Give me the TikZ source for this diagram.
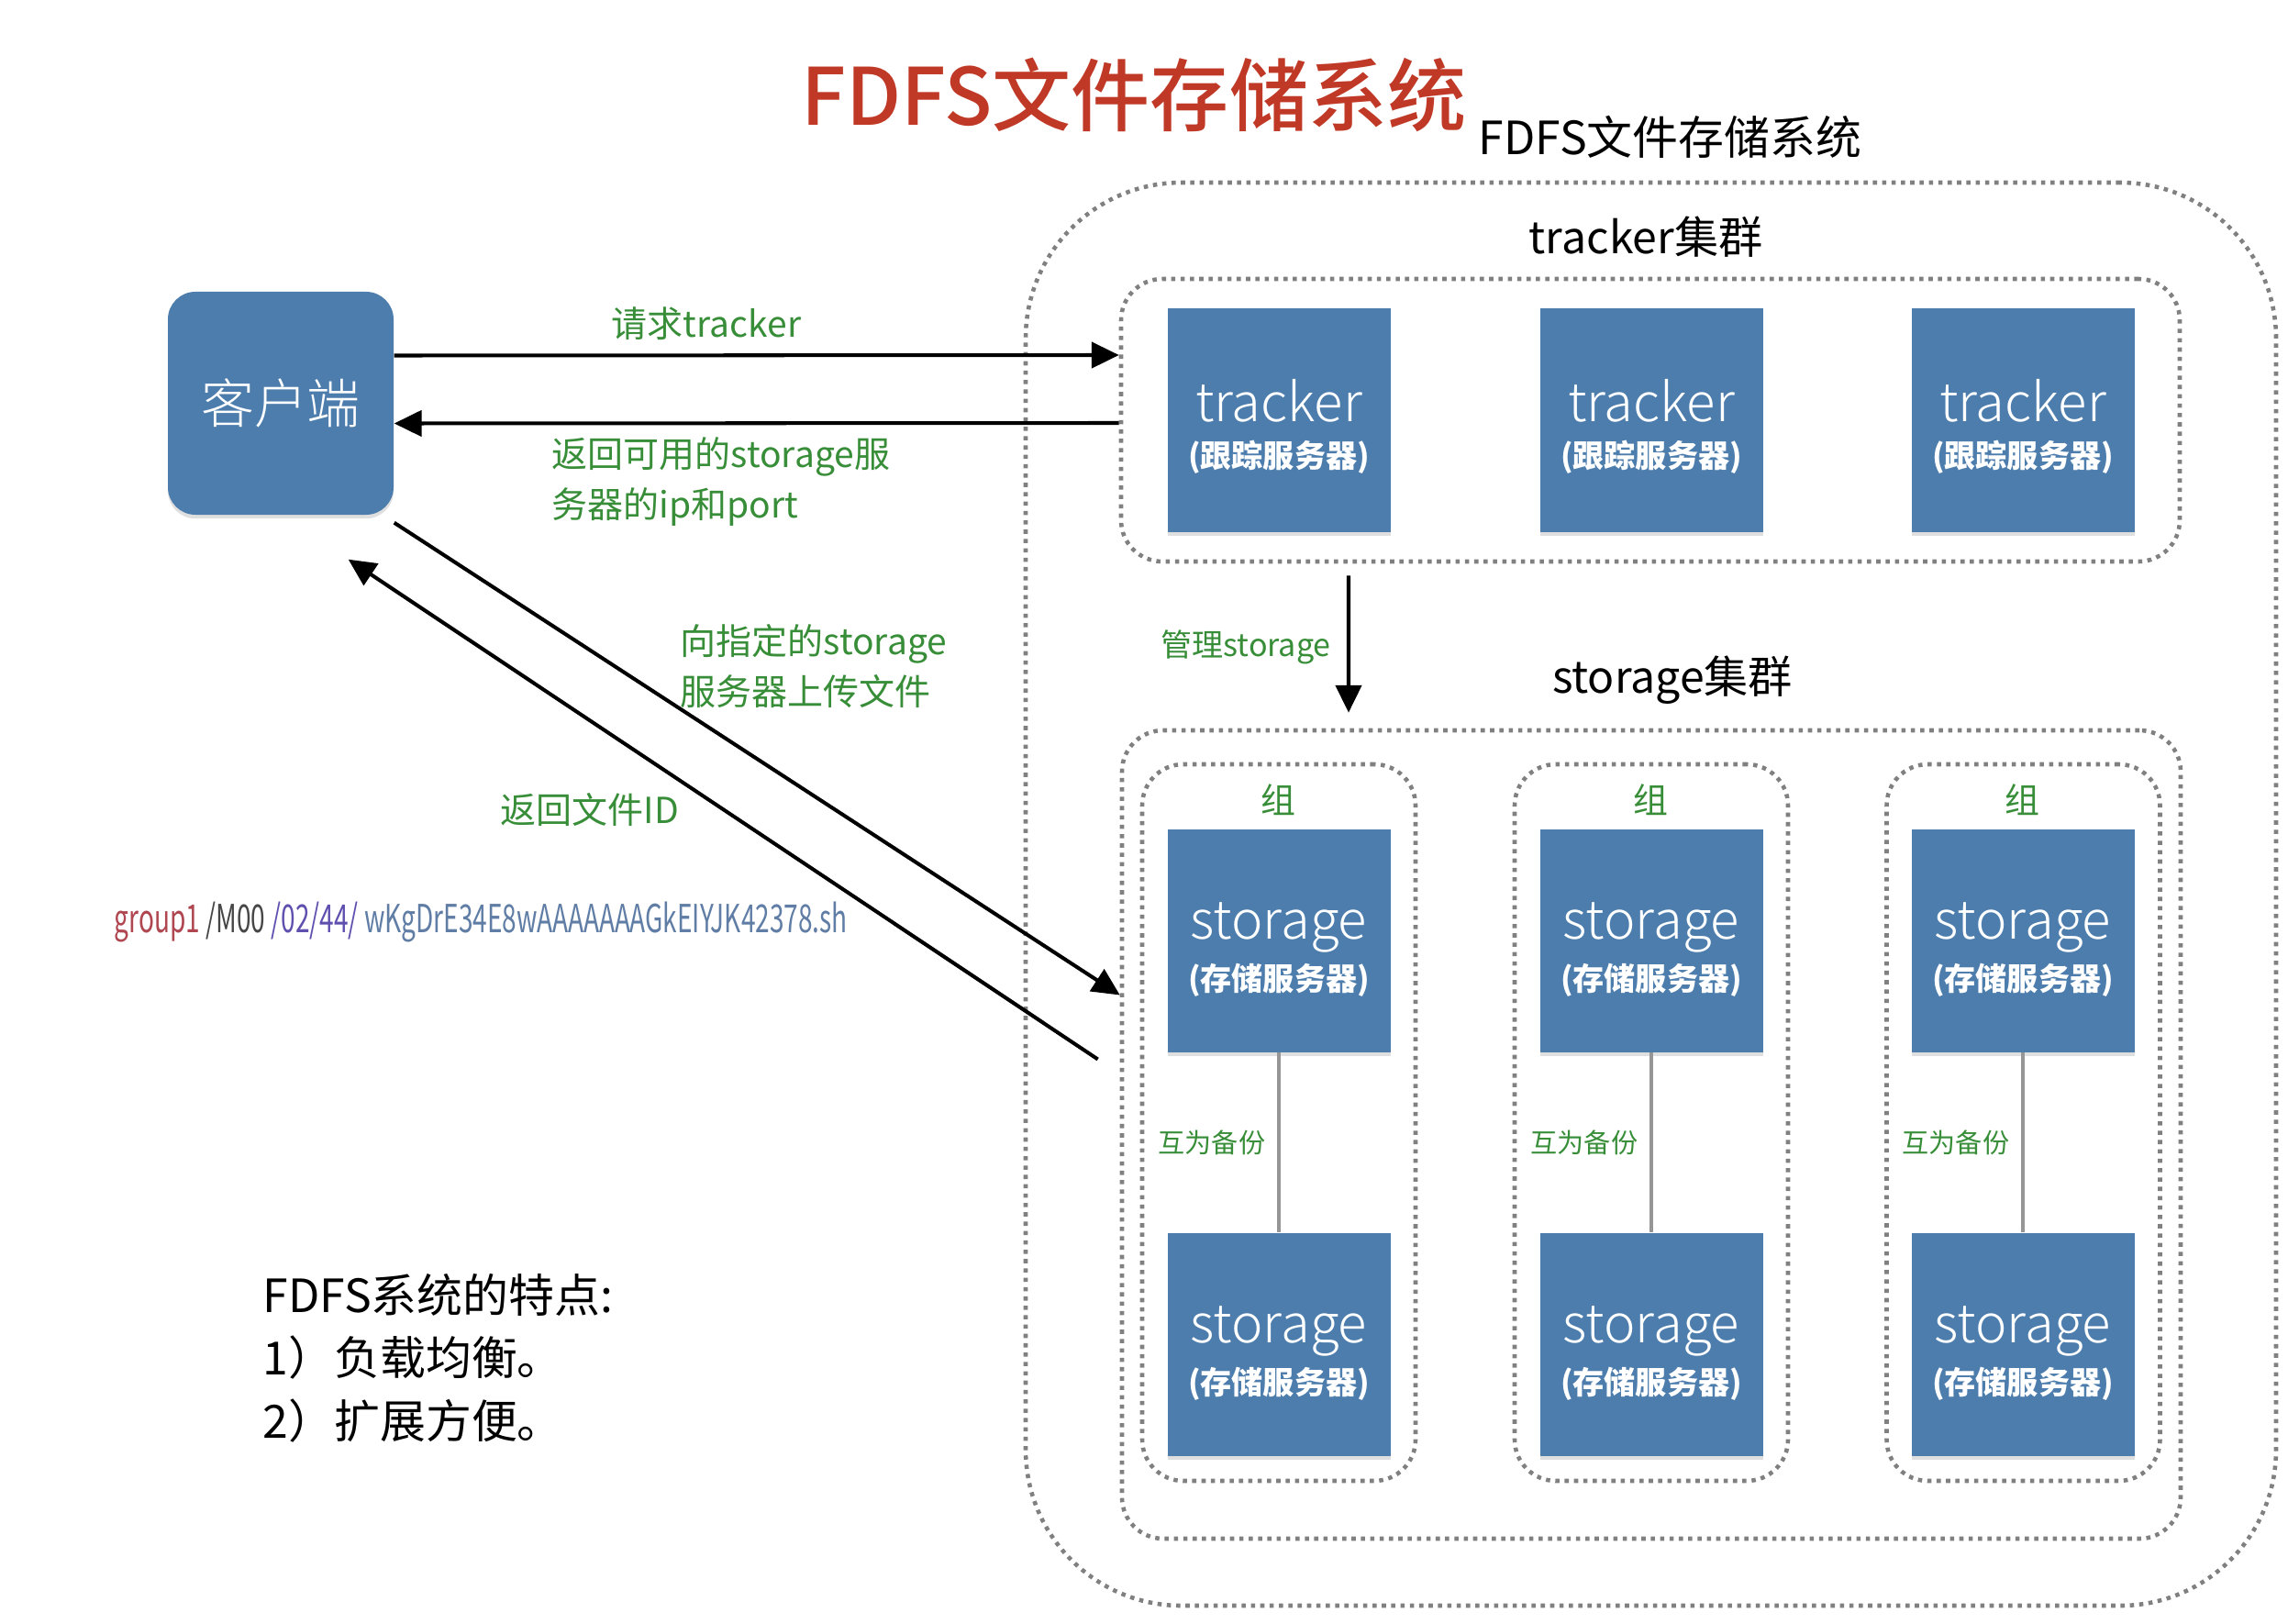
\documentclass[tikz,border=0pt]{standalone}
\usepackage{fontspec}
\setmainfont{Noto Sans CJK SC}
\newfontfamily\lightfont{Noto Sans CJK SC Light}
\newfontfamily\mediumfont{Noto Sans CJK SC Medium}
\usetikzlibrary{arrows.meta, positioning, shadows}
\definecolor{boxblue}{RGB}{76,125,173}
\definecolor{labelgreen}{RGB}{56,142,56}
\definecolor{titlered}{RGB}{192,57,38}
\definecolor{dotgray}{RGB}{128,128,128}
\definecolor{linkgray}{RGB}{150,150,150}

\begin{document}
\begin{tikzpicture}[
  server/.style={rectangle, fill=boxblue, text=white, align=center, inner sep=0pt,
                 minimum width=2.43cm, minimum height=2.43cm,
                 drop shadow={shadow xshift=0pt, shadow yshift=-1.2pt, opacity=0.25}},
  cluster/.style={rectangle, draw=dotgray, line width=1.3pt, dash pattern=on 1.3pt off 1.6pt,
                  rounded corners=0.45cm, inner sep=0pt},
  grn/.style={text=labelgreen, font=\fontsize{11.1}{15.4}\selectfont, align=left, inner sep=0pt},
  head/.style={font=\fontsize{13.7}{16}\selectfont, inner sep=0pt},
  arr/.style={-{Triangle[length=8.5pt, width=8pt]}, line width=1.15pt, black},
  link/.style={line width=1.1pt, linkgray},
]
  \useasboundingbox (0,0) rectangle (24.94,-17.70);

  % Titles
  \node[font=\mediumfont\fontsize{24.5}{28}\selectfont, text=titlered, inner sep=0pt] (title) at (12.36,-1.03) {FDFS文件存储系统};
  \node[anchor=west, font=\fontsize{14.2}{17}\selectfont, inner sep=0pt] (subtitle) at (16.11,-1.49) {FDFS文件存储系统};

  % Outer system
  \node[cluster, rounded corners=1.7cm, minimum width=13.63cm, minimum height=15.51cm] (fdfs) at (17.995,-9.745) {};

  % Tracker cluster
  \node[cluster, minimum width=11.54cm, minimum height=3.08cm] (trkgrp) at (17.99,-4.58) {};
  \node[head] (trklbl) at (17.94,-2.58) {tracker集群};
  \node[server] (trk1) at (13.94,-4.58) {\rule{0pt}{17.2pt}{\lightfont\fontsize{16.5}{18}\selectfont tracker}\\[2.3pt]{\bfseries\fontsize{9.7}{12}\selectfont (跟踪服务器)}};
  \node[server] (trk2) at (18.00,-4.58) {\rule{0pt}{17.2pt}{\lightfont\fontsize{16.5}{18}\selectfont tracker}\\[2.3pt]{\bfseries\fontsize{9.7}{12}\selectfont (跟踪服务器)}};
  \node[server] (trk3) at (22.05,-4.58) {\rule{0pt}{17.2pt}{\lightfont\fontsize{16.5}{18}\selectfont tracker}\\[2.3pt]{\bfseries\fontsize{9.7}{12}\selectfont (跟踪服务器)}};

  % Storage cluster
  \node[cluster, minimum width=11.54cm, minimum height=8.81cm] (stogrp) at (18.00,-12.365) {};
  \node[head] (stolbl) at (18.23,-7.41) {storage集群};

  % Groups
  \node[cluster, minimum width=2.98cm, minimum height=7.81cm] (grp1) at (13.94,-12.235) {};
  \node[cluster, minimum width=2.98cm, minimum height=7.81cm] (grp2) at (18.00,-12.235) {};
  \node[cluster, minimum width=2.98cm, minimum height=7.81cm] (grp3) at (22.055,-12.235) {};
  \node[grn, font=\fontsize{10.8}{12}\selectfont] (grp1lbl) at (13.93,-8.72) {组};
  \node[grn, font=\fontsize{10.8}{12}\selectfont] (grp2lbl) at (17.99,-8.72) {组};
  \node[grn, font=\fontsize{10.8}{12}\selectfont] (grp3lbl) at (22.04,-8.72) {组};

  % Storage servers
  \node[server] (sto1a) at (13.94,-10.25) {\rule{0pt}{17.2pt}{\lightfont\fontsize{16.5}{18}\selectfont storage}\\[2.3pt]{\bfseries\fontsize{9.7}{12}\selectfont (存储服务器)}};
  \node[server] (sto1b) at (13.94,-14.65) {\rule{0pt}{17.2pt}{\lightfont\fontsize{16.5}{18}\selectfont storage}\\[2.3pt]{\bfseries\fontsize{9.7}{12}\selectfont (存储服务器)}};
  \node[server] (sto2a) at (18.00,-10.25) {\rule{0pt}{17.2pt}{\lightfont\fontsize{16.5}{18}\selectfont storage}\\[2.3pt]{\bfseries\fontsize{9.7}{12}\selectfont (存储服务器)}};
  \node[server] (sto2b) at (18.00,-14.65) {\rule{0pt}{17.2pt}{\lightfont\fontsize{16.5}{18}\selectfont storage}\\[2.3pt]{\bfseries\fontsize{9.7}{12}\selectfont (存储服务器)}};
  \node[server] (sto3a) at (22.05,-10.25) {\rule{0pt}{17.2pt}{\lightfont\fontsize{16.5}{18}\selectfont storage}\\[2.3pt]{\bfseries\fontsize{9.7}{12}\selectfont (存储服务器)}};
  \node[server] (sto3b) at (22.05,-14.65) {\rule{0pt}{17.2pt}{\lightfont\fontsize{16.5}{18}\selectfont storage}\\[2.3pt]{\bfseries\fontsize{9.7}{12}\selectfont (存储服务器)}};

  % Backup links
  \draw[link] (sto1a) -- (sto1b);
  \draw[link] (sto2a) -- (sto2b);
  \draw[link] (sto3a) -- (sto3b);
  \node[grn, anchor=east, font=\fontsize{8.3}{10}\selectfont] (bak1) at (13.80,-12.45) {互为备份};
  \node[grn, anchor=east, font=\fontsize{8.3}{10}\selectfont] (bak2) at (17.86,-12.45) {互为备份};
  \node[grn, anchor=east, font=\fontsize{8.3}{10}\selectfont] (bak3) at (21.91,-12.45) {互为备份};

  % Client
  \node[server, rounded corners=0.3cm, minimum width=2.46cm] (cli) at (3.06,-4.395) {\lightfont\fontsize{16.5}{18}\selectfont 客户端};

  % Labels
  \node[grn] (req) at (7.70,-3.53) {请求tracker};
  \node[grn, anchor=west] (ret) at (6.01,-5.25) {返回可用的storage服\\务器的ip和port};
  \node[grn, anchor=west] (upl) at (7.41,-7.26) {向指定的storage\\服务器上传文件};
  \node[grn] (fid) at (6.43,-8.83) {返回文件ID};
  \node[grn, font=\fontsize{9.7}{12}\selectfont] (mgr) at (13.58,-7.05) {管理storage};

  % File id
  \node[anchor=west, inner sep=0pt, font=\fontsize{12}{14}\selectfont] (fileid) at (1.24,-10.05)
    {\scalebox{0.665}[1]{\textcolor[RGB]{175,70,80}{group1} \textcolor[RGB]{70,70,70}{/M00} \textcolor[RGB]{95,80,175}{/02/44/} \textcolor[RGB]{95,125,165}{wKgDrE34E8wAAAAAAAGkEIYJK42378.sh}}};

  % Features
  \node[anchor=west, align=left, inner sep=0pt, font=\fontsize{14.2}{19.5}\selectfont] (feat) at (2.86,-14.80)
    {FDFS系统的特点:\\1）负载均衡。\\2）扩展方便。};

  % Connections
  \draw[arr] ([yshift=5.2mm]cli.east) -- ([yshift=7.1mm]trkgrp.west);
  \draw[arr] ([yshift=-0.3mm]trkgrp.west) -- ([yshift=-2.2mm]cli.east);
  \draw[arr] ([yshift=-0.8mm]cli.south east) -- ([yshift=15.2mm]stogrp.west);
  \draw[arr] ([xshift=-2.4mm, yshift=8.2mm]stogrp.west) -- ([xshift=-5mm, yshift=-4.8mm]cli.south east);
  \draw[arr] ([xshift=-3.29cm, yshift=-1.3mm]trkgrp.south) -- ([xshift=-3.3cm, yshift=1.7mm]stogrp.north);
\end{tikzpicture}
\end{document}
